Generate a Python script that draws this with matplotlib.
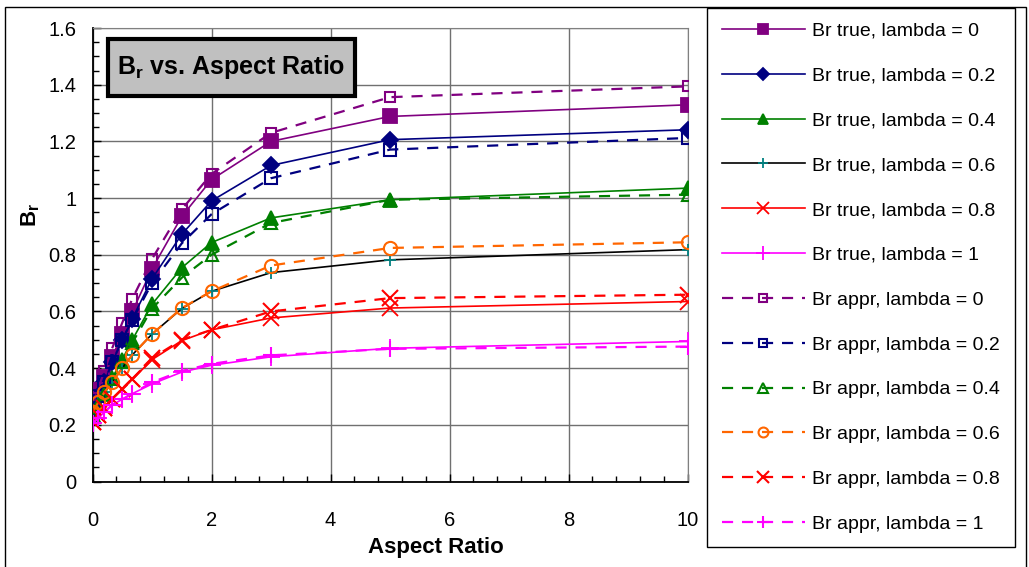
import matplotlib
matplotlib.use('Agg')
import matplotlib.pyplot as plt
from matplotlib.patches import Rectangle
from matplotlib.ticker import MultipleLocator

plt.rcParams['font.family'] = ['Liberation Sans', 'DejaVu Sans']
plt.rcParams['mathtext.fontset'] = 'custom'
plt.rcParams['mathtext.rm'] = 'Liberation Sans'
plt.rcParams['mathtext.bf'] = 'Liberation Sans:bold'

# data
aspect = [0, 0.1, 0.2, 0.33, 0.5, 0.67, 1, 1.5, 2, 3, 5, 10]

true_0 = [0.27, 0.32, 0.37, 0.44, 0.52, 0.60, 0.75, 0.935, 1.065, 1.20, 1.288, 1.329]
true_02 = [0.255, 0.30, 0.35, 0.42, 0.50, 0.575, 0.715, 0.872, 0.99, 1.115, 1.206, 1.241]
true_04 = [0.235, 0.27, 0.31, 0.365, 0.43, 0.50, 0.625, 0.754, 0.843, 0.93, 0.994, 1.035]
true_06 = [0.245, 0.28, 0.315, 0.35, 0.40, 0.447, 0.52, 0.61, 0.671, 0.737, 0.782, 0.818]
true_08 = [0.21, 0.235, 0.26, 0.29, 0.325, 0.36, 0.43, 0.497, 0.535, 0.577, 0.612, 0.635]
true_1 = [0.205, 0.225, 0.245, 0.27, 0.29, 0.31, 0.344, 0.386, 0.41, 0.44, 0.47, 0.494]

appr_0 = [0.27, 0.33, 0.39, 0.47, 0.56, 0.645, 0.785, 0.96, 1.085, 1.23, 1.356, 1.394]
appr_02 = [0.255, 0.30, 0.35, 0.42, 0.50, 0.57, 0.70, 0.84, 0.943, 1.07, 1.171, 1.212]
appr_04 = [0.235, 0.27, 0.31, 0.36, 0.42, 0.49, 0.61, 0.719, 0.80, 0.912, 0.994, 1.012]
appr_06 = [0.245, 0.28, 0.315, 0.35, 0.40, 0.447, 0.52, 0.612, 0.671, 0.762, 0.824, 0.844]
appr_08 = [0.21, 0.235, 0.26, 0.29, 0.325, 0.36, 0.435, 0.50, 0.535, 0.60, 0.647, 0.659]
appr_1 = [0.205, 0.225, 0.245, 0.27, 0.29, 0.31, 0.35, 0.39, 0.415, 0.445, 0.468, 0.476]

lambdas = ['0', '0.2', '0.4', '0.6', '0.8', '1']
true_series = [true_0, true_02, true_04, true_06, true_08, true_1]
appr_series = [appr_0, appr_02, appr_04, appr_06, appr_08, appr_1]
y_ticks = [0, 0.2, 0.4, 0.6, 0.8, 1, 1.2, 1.4, 1.6]
y_labels = ['0', '0.2', '0.4', '0.6', '0.8', '1', '1.2', '1.4', '1.6']

line_colors = ['#800080', '#000080', '#008000', '#000000', '#FF0000', '#FF00FF']
true_marker_colors = ['#800080', '#000080', '#008000', '#008080', '#FF0000', '#FF00FF']
appr_colors = ['#800080', '#000080', '#008000', '#FF6600', '#FF0000', '#FF00FF']
true_markers = ['s', 'D', '^', '+', 'x', '+']
true_msize = [10.5, 8.5, 10.5, 9, 11, 13]
appr_markers = ['s', 's', '^', 'o', 'x', '+']
appr_msize = [7.5, 8.5, 9, 9.5, 11, 12]

fig = plt.figure(figsize=[10.29, 5.67], dpi=100)
ax = fig.add_axes([92.5 / 1029, 1 - 481.5 / 567, 595 / 1029, 453.5 / 567])

handles = []
for i, lam in enumerate(lambdas):
    filled = true_markers[i] in ('s', 'D', '^')
    h, = ax.plot(aspect, true_series[i], color=line_colors[i], lw=1.2,
                 marker=true_markers[i], markersize=true_msize[i],
                 markerfacecolor=true_marker_colors[i] if filled else 'none',
                 markeredgecolor=true_marker_colors[i], markeredgewidth=1.3,
                 label=f'Br true, lambda = {lam}', zorder=3)
    handles.append(h)
for i, lam in enumerate(lambdas):
    h, = ax.plot(aspect, appr_series[i], color=appr_colors[i], lw=1.6,
                 dashes=(5, 4), marker=appr_markers[i],
                 markersize=appr_msize[i], markerfacecolor='none',
                 markeredgecolor=appr_colors[i], markeredgewidth=1.5,
                 label=f'Br appr, lambda = {lam}', zorder=3)
    handles.append(h)

ax.set_xlim(0, 10)
ax.set_ylim(0, 1.6)
ax.xaxis.set_major_locator(MultipleLocator(2))
ax.xaxis.set_minor_locator(MultipleLocator(0.4))
ax.yaxis.set_minor_locator(MultipleLocator(0.05))
ax.set_yticks(y_ticks)
ax.set_yticklabels(y_labels)
ax.tick_params(which='both', direction='in', labelsize=14.5)
ax.tick_params(which='major', length=6, width=1)
ax.tick_params(which='minor', length=4, width=1)
ax.tick_params(axis='x', pad=21)
ax.tick_params(axis='y', pad=11.5)
ax.grid(True, which='major', color='#707070', lw=1)
ax.set_axisbelow(True)
for s in ['top', 'right']:
    ax.spines[s].set_color('#808080')
for s in ['left', 'bottom']:
    ax.spines[s].set_color('black')
    ax.spines[s].set_linewidth(1.3)

fig.text(436 / 1029, 1 - 547 / 567, 'Aspect Ratio', fontsize=16, fontweight='bold',
         ha='center', va='center')
fig.text(31 / 1029, 1 - 215 / 567, r'$\mathbf{B_r}$', fontsize=16,
         rotation=90, ha='center', va='center')

# title box
fig.patches.append(Rectangle((108 / 1029, 1 - 95.5 / 567), 247 / 1029, 57 / 567,
                             transform=fig.transFigure, facecolor='#C0C0C0',
                             edgecolor='black', lw=3, zorder=5))
fig.text(231.5 / 1029, 1 - 67 / 567, r'$\mathbf{B_r}$ vs. Aspect Ratio', fontsize=18,
         fontweight='bold', ha='center', va='center', zorder=6)

# outer chart border
fig.patches.append(Rectangle((5 / 1029, -0.02), 1021 / 1029, 1 - 7 / 567 + 0.02,
                             transform=fig.transFigure, facecolor='none',
                             edgecolor='black', lw=1, zorder=1))

leg = fig.legend(handles=handles, loc='upper left',
                 bbox_to_anchor=(707 / 1029, 1 - 7.5 / 567), borderaxespad=0,
                 fontsize=14, frameon=True, fancybox=False, framealpha=1,
                 edgecolor='black', handlelength=4.3, handletextpad=0.36,
                 labelspacing=1.40, borderpad=0.75, markerscale=0.75)
leg.get_frame().set_linewidth(1)

plt.savefig('out.png', dpi=100)
